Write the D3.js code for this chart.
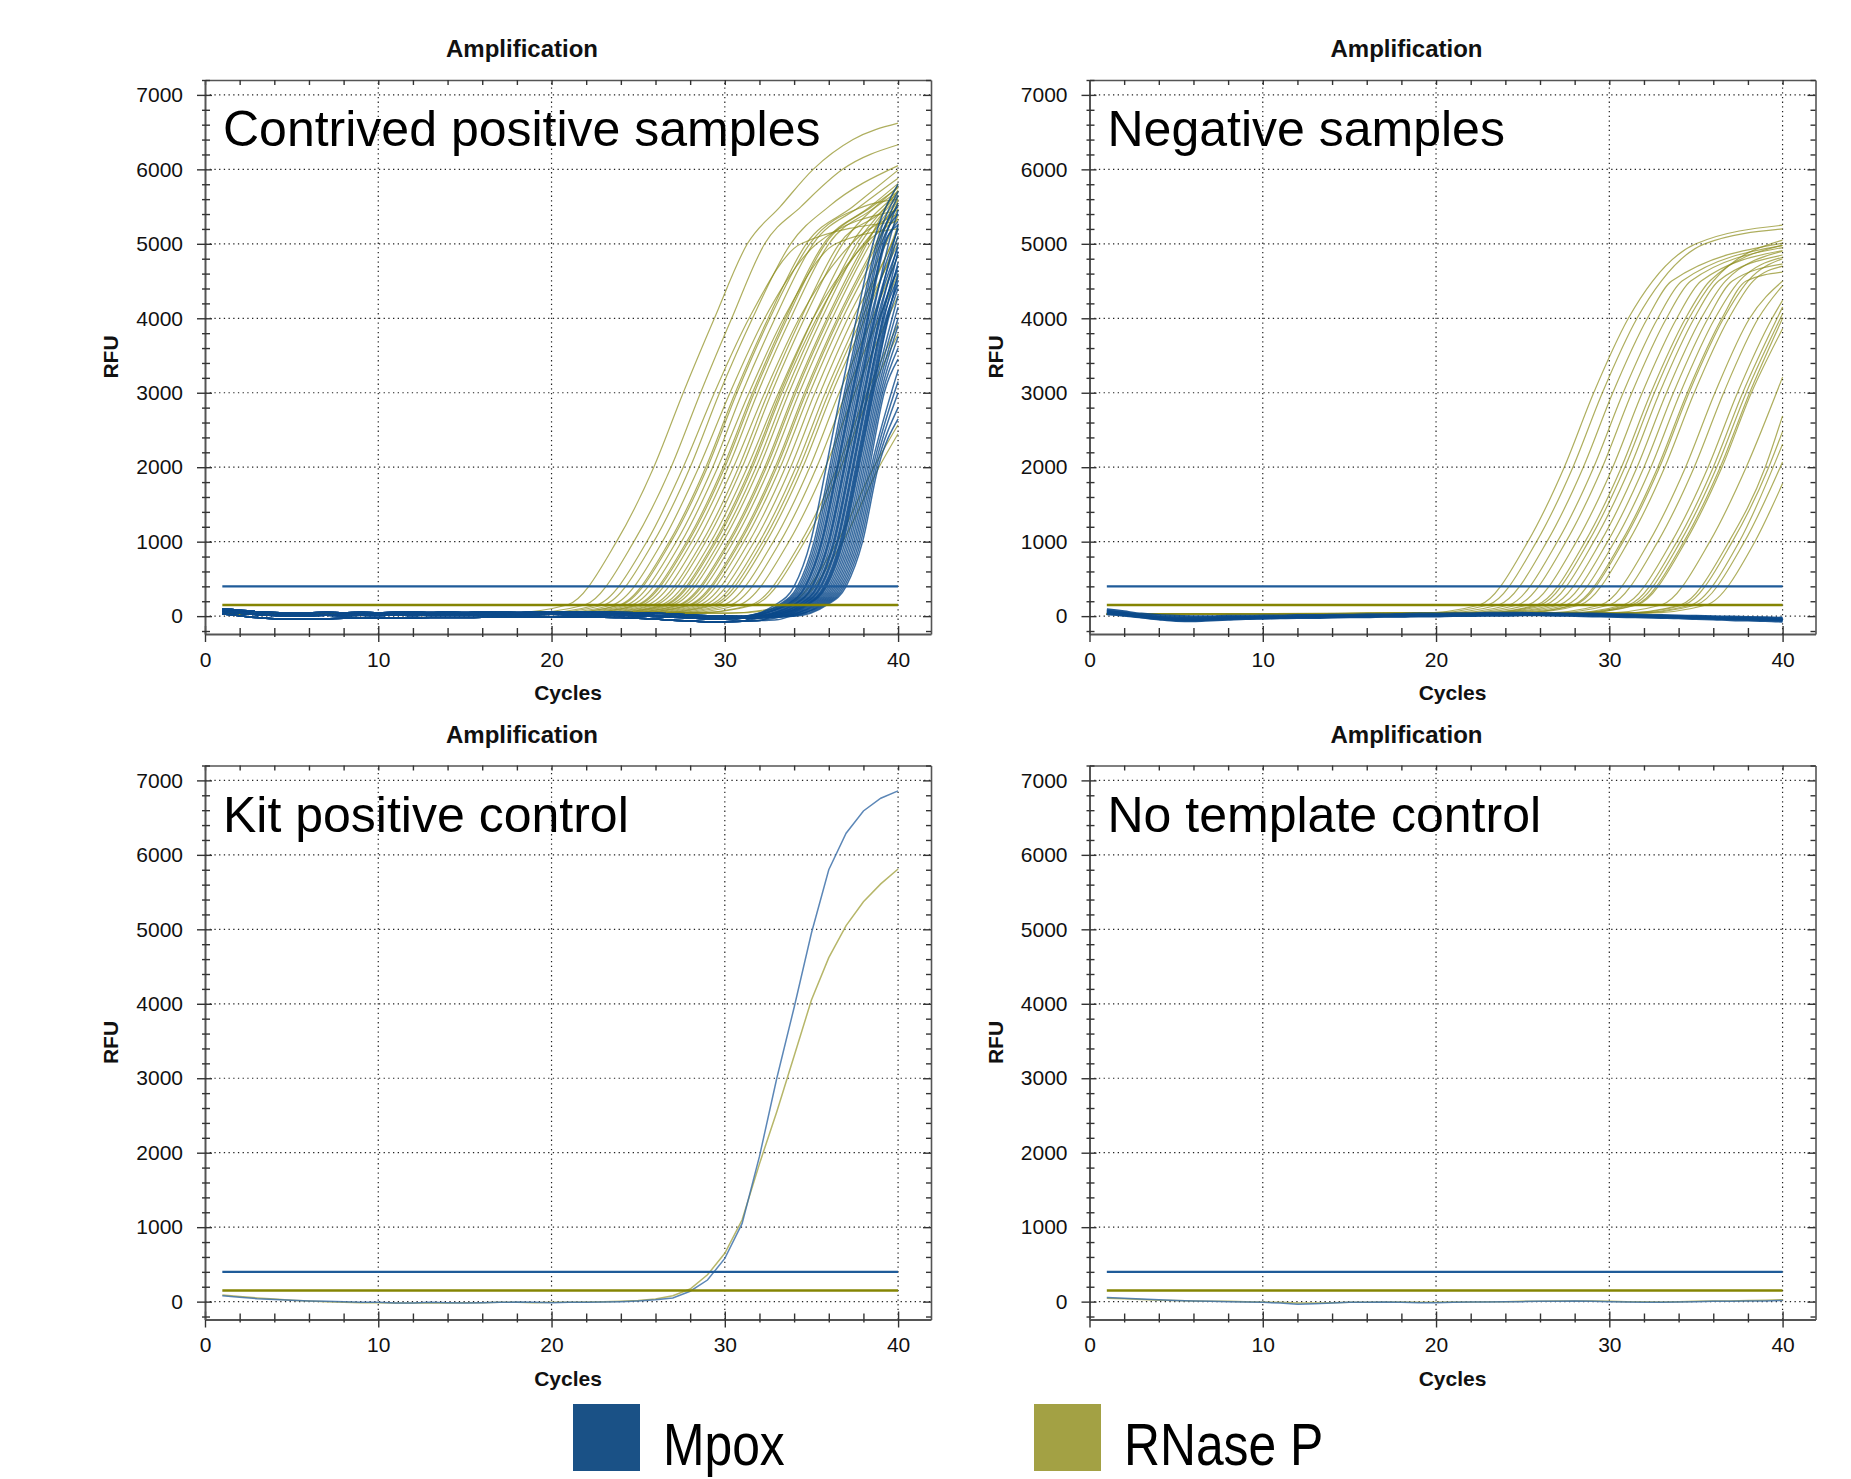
<!DOCTYPE html>
<html>
<head>
<meta charset="utf-8">
<script src="https://d3js.org/d3.v7.min.js"></script>
<style>
  body { margin: 0; background: #fff; }
  text { font-family: "Liberation Sans", Arial, sans-serif; }
</style>
</head>
<body>
<script>
// ---------- data ----------
var xMajorTicks = [0, 10, 20, 30, 40];
var xMinorTicks = [2, 4, 6, 8, 12, 14, 16, 18, 22, 24, 26, 28, 32, 34, 36, 38];
var yMajorTicks = [0, 1000, 2000, 3000, 4000, 5000, 6000, 7000];
var xGridLines = [10, 20, 30, 40];

var mpoxThreshold = 400;
var rnaseThreshold = 150;

var panelLabels = ["Contrived positive samples", "Negative samples", "Kit positive control", "No template control"];
var legendNames = ["Mpox", "RNase P"];

// RNase P curves, contrived positives: cycle at which each curve crosses these RFU levels
var rnaseTLLevels = [40, 150, 1000, 2000, 3000, 4000, 5000, 5500, 6000, 6400];
var rnaseTLCross = [
  [17.4, 20.9, 23.75, 25.9, 27.6, 29.4, 31.3, 33.2, 35.1, 37.4],
  [18.4, 21.9, 24.75, 26.9, 28.6, 30.4, 32.3, 34.4, 36.8],
  [19.1, 22.6, 25.5, 27.6, 29.4, 31.4, 34.4],
  [19.5, 23.0, 25.9, 28.0, 29.7, 31.6, 33.8, 36.0],
  [20.0, 23.5, 26.4, 28.5, 30.3, 32.3, 35.3],
  [20.4, 23.9, 26.8, 28.9, 30.6, 32.5, 34.7, 37.4],
  [20.8, 24.3, 27.2, 29.3, 31.0, 32.9, 35.1, 37.8],
  [21.1, 24.6, 27.5, 29.6, 31.4, 33.4, 36.4],
  [21.4, 24.9, 27.8, 29.9, 31.6, 33.5, 35.7, 38.4],
  [21.7, 25.2, 28.1, 30.2, 31.9, 33.8, 36.0, 38.7],
  [22.0, 25.5, 28.4, 30.5, 32.3, 34.3, 37.3],
  [22.3, 25.8, 28.7, 30.8, 32.5, 34.4, 36.6, 39.3],
  [22.5, 26.0, 28.9, 31.0, 32.7, 34.6, 36.8],
  [22.8, 26.3, 29.2, 31.3, 33.1, 35.1, 38.1],
  [23.0, 26.5, 29.4, 31.5, 33.2, 35.1, 37.3],
  [23.3, 26.8, 29.7, 31.8, 33.5, 35.4, 37.6],
  [23.5, 27.0, 29.9, 32.0, 33.7, 35.6, 37.8],
  [23.8, 27.3, 30.2, 32.3, 34.0, 35.9, 38.1],
  [24.1, 27.6, 30.5, 32.6, 34.3, 36.2, 38.4],
  [24.4, 27.9, 30.8, 32.9, 34.6, 36.5, 38.7],
  [24.7, 28.2, 31.1, 33.2, 34.9, 36.8, 39.0],
  [25.0, 28.5, 31.4, 33.5, 35.2, 37.1, 39.3],
  [25.3, 28.8, 31.7, 33.8, 35.5, 37.4, 39.6],
  [25.6, 29.1, 32.0, 34.1, 35.8, 37.7],
  [26.0, 29.5, 32.4, 34.5, 36.2, 38.1],
  [26.4, 29.9, 32.8, 34.9, 36.6, 38.5],
  [26.8, 30.3, 33.2, 35.3, 37.0, 38.9],
  [27.3, 30.8, 33.7, 35.8, 37.5, 39.4],
  [28.0, 31.5, 34.4, 36.5, 38.2],
  [28.2, 31.7, 34.6, 36.7, 38.4],
  [30.1, 33.6, 36.5, 38.6],
  [30.4, 33.9, 36.8, 38.9],
  [20.5, 24.0, 26.9, 29.0, 30.7, 32.6, 34.9, 38.0],
  [21.5, 25.0, 27.9, 30.0, 31.7, 33.6, 35.8, 38.5],
  [23.1, 26.6, 29.5, 31.6, 33.3, 35.3, 38.0],
  [23.9, 27.4, 30.3, 32.4, 34.1, 36.0, 38.2],
  [24.5, 28.0, 30.9, 33.0, 34.7, 36.6, 38.8],
  [25.8, 29.3, 32.2, 34.3, 36.0, 37.9]
];
var rnaseTLEnd = [6620, 6330, 5300, 6050, 5450, 5990, 5880, 5200, 5810, 5770, 5400, 5720, 5700, 5330,
  5680, 5650, 5630, 5600, 5580, 5550, 5470, 5380, 5250, 5190, 5100, 4850, 4600, 4300, 3920, 3790,
  2570, 2450, 5600, 5750, 5500, 5800, 5550, 5000];

// Mpox curves, contrived positives
var mpoxTLLevels = [0, 150, 400, 1000, 2000, 3000, 4000, 5000];
var mpoxTLCross = [
  [31.0, 32.9, 34.0, 34.95, 35.85, 36.7, 37.6, 38.55],
  [31.2, 33.1, 34.2, 35.15, 36.05, 36.9, 37.8, 38.75],
  [31.3, 33.2, 34.3, 35.25, 36.15, 37.0, 37.9, 38.85],
  [31.4, 33.3, 34.4, 35.35, 36.25, 37.1, 38.0, 38.95],
  [31.5, 33.4, 34.5, 35.45, 36.35, 37.2, 38.1, 39.05],
  [31.6, 33.5, 34.6, 35.55, 36.45, 37.3, 38.2, 39.15],
  [31.7, 33.6, 34.7, 35.65, 36.55, 37.4, 38.3, 39.25],
  [31.8, 33.7, 34.8, 35.75, 36.65, 37.5, 38.4],
  [31.9, 33.8, 34.9, 35.85, 36.75, 37.6, 38.5, 39.45],
  [32.0, 33.9, 35.0, 35.95, 36.85, 37.7, 38.6],
  [32.05, 33.95, 35.05, 36.0, 36.9, 37.75, 38.65],
  [32.1, 34.0, 35.1, 36.05, 36.95, 37.8, 38.7],
  [32.2, 34.1, 35.2, 36.15, 37.05, 37.9, 38.8],
  [32.3, 34.2, 35.3, 36.25, 37.15, 38.0, 38.9],
  [32.4, 34.3, 35.4, 36.35, 37.25, 38.1, 39.0],
  [32.5, 34.4, 35.5, 36.45, 37.35, 38.2, 39.1],
  [32.55, 34.45, 35.55, 36.5, 37.4, 38.25, 39.15],
  [32.6, 34.5, 35.6, 36.55, 37.45, 38.3, 39.2],
  [32.7, 34.6, 35.7, 36.65, 37.55, 38.4, 39.3],
  [32.8, 34.7, 35.8, 36.75, 37.65, 38.5, 39.4],
  [32.9, 34.8, 35.9, 36.85, 37.75, 38.6],
  [33.0, 34.9, 36.0, 36.95, 37.85, 38.7],
  [32.85, 34.75, 35.85, 36.8, 37.7, 38.55, 39.45],
  [33.1, 35.0, 36.1, 37.05, 37.95, 38.8],
  [33.2, 35.1, 36.2, 37.15, 38.05, 38.9],
  [33.3, 35.2, 36.3, 37.25, 38.15, 39.0],
  [33.4, 35.3, 36.4, 37.35, 38.25, 39.1],
  [33.5, 35.4, 36.5, 37.45, 38.35, 39.2],
  [33.6, 35.5, 36.6, 37.55, 38.45],
  [33.7, 35.6, 36.7, 37.65, 38.55],
  [33.8, 35.7, 36.8, 37.75, 38.65],
  [33.9, 35.8, 36.9, 37.85, 38.75],
  [34.0, 35.9, 37.0, 37.95, 38.85],
  [32.35, 34.25, 35.35, 36.3, 37.2, 38.05, 38.95],
  [31.65, 33.55, 34.65, 35.6, 36.5, 37.35, 38.25, 39.2],
  [32.75, 34.65, 35.75, 36.7, 37.6, 38.45, 39.35]
];
var mpoxTLEnd = [5800, 5700, 5500, 5650, 5400, 5550, 5300, 5200, 5450, 5100, 4950, 5250, 4850, 5000,
  4700, 4900, 4550, 4750, 4450, 4600, 4300, 4150, 4400, 4000, 3900, 3750, 3600, 3450, 3300, 3150,
  3000, 2800, 2650, 4650, 5250, 4500];
// baseline shapes of the Mpox band (cycles 1..34) before the rise
var mpoxTLBase = [
  [95, 80, 60, 50, 45, 45, 52, 44, 52, 45, 52, 56, 48, 56, 50, 57, 52, 50, 57, 60, 53, 60, 55, 50, 45, 38, 28, 15, 5, 0, -5, 0, 5, 15],
  [60, 40, 20, 10, 5, 5, 12, 5, 12, 8, 15, 10, 16, 12, 15, 20, 15, 20, 18, 25, 20, 20, 15, 10, 5, -5, -15, -25, -35, -35, -30, -25, -20, -10],
  [30, 5, -20, -35, -40, -35, -35, -30, -30, -25, -25, -25, -20, -20, -20, -15, -15, -15, -10, -10, -10, -15, -15, -20, -30, -40, -55, -65, -75, -75, -70, -60, -50, -35],
  [75, 55, 30, 20, 15, 15, 22, 18, 26, 20, 25, 30, 24, 31, 28, 35, 30, 36, 33, 40, 35, 35, 30, 25, 20, 10, 0, -10, -20, -25, -20, -15, -10, 0]
];
var rnaseLeadRfu = 25;

// RNase P curves, negative samples
var rnaseTRLevels = [40, 150, 1000, 2000, 3000, 4000, 4500, 5000];
var rnaseTRCross = [
  [19.0, 22.5, 25.3, 27.4, 29.1, 31.1, 32.5, 35.0],
  [19.5, 23.0, 25.8, 27.9, 29.6, 31.6, 33.0, 35.5],
  [20.1, 23.6, 26.4, 28.5, 30.2, 32.2, 33.6],
  [20.7, 24.2, 27.0, 29.1, 30.8, 32.8, 34.2],
  [21.2, 24.7, 27.5, 29.6, 31.3, 33.3, 34.7],
  [21.8, 25.3, 28.1, 30.2, 31.9, 33.9, 35.3],
  [22.3, 25.8, 28.6, 30.7, 32.4, 34.4, 35.8],
  [22.8, 26.3, 29.1, 31.2, 32.9, 34.9, 36.3],
  [23.2, 26.7, 29.5, 31.6, 33.3, 35.3, 36.7],
  [23.6, 27.1, 29.9, 32.0, 33.7, 35.7, 37.1],
  [24.0, 27.5, 30.3, 32.4, 34.1, 36.1, 37.5],
  [24.4, 27.9, 30.7, 32.8, 34.5, 36.5, 37.9],
  [24.8, 28.3, 31.1, 33.2, 34.9, 36.9, 38.3],
  [26.5, 30.0, 32.8, 34.9, 36.6, 38.6],
  [26.0, 29.5, 32.3, 34.4, 36.1, 38.1],
  [27.3, 30.8, 33.6, 35.7, 37.4, 39.4],
  [27.6, 31.1, 33.9, 36.0, 37.7],
  [27.8, 31.3, 34.1, 36.2, 37.9],
  [28.0, 31.5, 34.3, 36.4, 38.1],
  [28.1, 31.6, 34.4, 36.5, 38.2],
  [29.5, 33.0, 35.8, 37.9],
  [30.6, 34.1, 36.9, 39.0],
  [30.8, 34.3, 37.1, 39.2],
  [31.2, 34.7, 37.5],
  [31.5, 35.0, 37.8],
  [32.1, 35.6, 38.4],
  [24.5, 28.0, 30.8, 32.9, 34.6, 36.6, 38.0],
  [22.5, 26.0, 28.8, 30.9, 32.6, 34.6, 36.0]
];
var rnaseTREnd = [5250, 5200, 5010, 4980, 4950, 4910, 4980, 4850, 4900, 4730, 4820, 4620, 4700, 4440,
  4500, 4240, 4150, 4060, 4000, 3860, 3210, 2690, 2480, 2310, 2070, 1780, 4800, 5050];

// Mpox curves, negative samples (cycles 1..40)
var mpoxTRNeg = [
  [70, 40, 10, -15, -25, -25, -20, -15, -15, -10, -10, -5, -5, 0, 0, 5, 5, 10, 10, 15, 20, 20, 25, 25, 30, 30, 25, 25, 20, 15, 10, 5, 0, -5, -10, -15, -20, -25, -30, -35],
  [40, 15, -10, -35, -50, -55, -45, -35, -30, -25, -20, -15, -15, -10, -5, -5, 0, 0, 5, 5, 10, 10, 15, 15, 20, 20, 15, 15, 10, 5, 0, -5, -10, -15, -20, -30, -35, -40, -45, -55],
  [90, 60, 30, 10, 0, -5, -5, 0, 0, 5, 5, 10, 10, 15, 15, 20, 20, 25, 30, 30, 35, 35, 40, 40, 40, 35, 35, 30, 30, 25, 20, 15, 10, 5, 0, -5, -10, -15, -20, -25],
  [55, 30, 0, -20, -35, -40, -35, -25, -20, -15, -10, -10, -5, -5, 0, 0, 5, 5, 10, 15, 15, 20, 20, 25, 25, 25, 20, 20, 15, 10, 5, 0, -5, -10, -15, -25, -30, -40, -45, -50],
  [30, 10, -15, -40, -60, -65, -55, -45, -35, -30, -25, -20, -20, -15, -10, -10, -5, -5, 0, 0, 5, 5, 10, 10, 15, 15, 10, 5, 0, -5, -10, -15, -20, -25, -35, -40, -50, -55, -60, -70]
];

// kit positive control (cycles 1..40)
var mpoxKit = [80, 60, 40, 30, 20, 10, 5, 0, -10, -10, -20, -20, -10, -15, -20, -15, -10, -5, -10, -15,
  -10, -10, -5, 0, 10, 25, 50, 140, 290, 580, 1050, 1950, 3000, 3950, 4950, 5800, 6290, 6590, 6760, 6860];
var rnaseKit = [90, 70, 50, 35, 20, 10, 0, -10, -15, -15, -20, -20, -15, -20, -15, -15, -10, -10, -15, -10,
  -10, -5, 0, 5, 15, 35, 80, 170, 360, 650, 1100, 1850, 2550, 3300, 4050, 4620, 5050, 5370, 5610, 5810];

// no template control (cycles 1..40)
var mpoxNtc = [55, 45, 35, 25, 15, 10, 5, 0, -5, -10, -20, -35, -30, -20, -10, -10, -5, -10, -15, -15,
  -10, -5, -5, 0, 0, 5, 5, 10, 5, 0, -5, -10, -10, -5, 0, 5, 5, 10, 10, 15];
var rnaseNtc = [45, 40, 30, 20, 15, 10, 5, 5, 0, -5, -10, -20, -20, -15, -10, -10, -5, -5, -10, -10,
  -5, -5, 0, 0, 5, 5, 10, 10, 10, 5, 0, 0, -5, 0, 5, 10, 10, 15, 20, 25];

// ---------- drawing ----------
var mpoxColor = "#0b4a8b", rnaseColor = "#8b8b1a";
var panelW = 726, panelH = 554, xMax = 41.9, yMin = -240, yMax = 7200;

var svg = d3.select("body").append("svg")
  .attr("width", 1851)
  .attr("height", 1479);
svg.append("rect").attr("width", 1851).attr("height", 1479).attr("fill", "#fff");

function crossingSeries(levels, cross, end, lead) {
  var pts = lead.slice();
  cross.forEach(function(c, i) { pts.push([c, levels[i]]); });
  pts.push([40, end]);
  return pts;
}
function cycleSeries(values) {
  return values.map(function(v, i) { return [i + 1, v]; });
}

var tlOlive = rnaseTLCross.map(function(c, i) {
  return crossingSeries(rnaseTLLevels, c, rnaseTLEnd[i], [[1, rnaseLeadRfu]]);
});
var tlBlue = mpoxTLCross.map(function(c, i) {
  var lead = cycleSeries(mpoxTLBase[i % 4]).filter(function(p) { return p[0] < c[0] - 0.4; });
  return crossingSeries(mpoxTLLevels, c, mpoxTLEnd[i], lead);
});
var trOlive = rnaseTRCross.map(function(c, i) {
  return crossingSeries(rnaseTRLevels, c, rnaseTREnd[i], [[1, rnaseLeadRfu]]);
});
var trBlue = mpoxTRNeg.map(cycleSeries);

var panels = [
  {left: 205, top: 80, label: panelLabels[0], olive: tlOlive, blue: tlBlue, smooth: true,
   oliveStyle: {w: 1.2, o: 0.7}, blueStyle: {w: 1.5, o: 0.8}},
  {left: 1089.5, top: 80, label: panelLabels[1], olive: trOlive, blue: trBlue, smooth: true,
   oliveStyle: {w: 1.2, o: 0.7}, blueStyle: {w: 2.6, o: 0.92}},
  {left: 205, top: 765.5, label: panelLabels[2], olive: [cycleSeries(rnaseKit)], blue: [cycleSeries(mpoxKit)], smooth: false,
   oliveStyle: {w: 1.5, o: 0.8, c: "#a4a444"}, blueStyle: {w: 1.5, o: 0.85, c: "#3f72aa"}},
  {left: 1089.5, top: 765.5, label: panelLabels[3], olive: [cycleSeries(rnaseNtc)], blue: [cycleSeries(mpoxNtc)], smooth: false,
   oliveStyle: {w: 1.5, o: 0.8, c: "#a4a444"}, blueStyle: {w: 1.5, o: 0.85, c: "#3f72aa"}}
];

function styleAxis(sel, labels) {
  sel.select(".domain").attr("stroke", "#555").attr("stroke-width", 2);
  sel.selectAll(".tick line").attr("stroke", "#333").attr("stroke-width", 1.4);
  sel.selectAll(".tick text").attr("font-size", 21).attr("fill", "#111")
    .attr("font-family", "'Liberation Sans', Arial, sans-serif");
  if (!labels) sel.selectAll(".tick text").remove();
}

var yMinorTicks = d3.range(-200, 7201, 200).filter(function(d) { return d % 1000 !== 0; });

panels.forEach(function(p, k) {
  var x = d3.scaleLinear().domain([0, xMax]).range([p.left, p.left + panelW]);
  var y = d3.scaleLinear().domain([yMin, yMax]).range([p.top + panelH, p.top]);
  var g = svg.append("g");

  // dotted grid
  g.append("g").selectAll("line").data(yMajorTicks).join("line")
    .attr("x1", x(0)).attr("x2", x(xMax))
    .attr("y1", function(d) { return y(d); }).attr("y2", function(d) { return y(d); })
    .attr("stroke", "#222").attr("stroke-width", 1.2).attr("stroke-dasharray", "1.3,3.4");
  g.append("g").selectAll("line").data(xGridLines).join("line")
    .attr("y1", y(yMin)).attr("y2", y(yMax))
    .attr("x1", function(d) { return x(d); }).attr("x2", function(d) { return x(d); })
    .attr("stroke", "#222").attr("stroke-width", 1.2).attr("stroke-dasharray", "1.3,3.4");

  // curves
  g.append("clipPath").attr("id", "clip" + k).append("rect")
    .attr("x", x(0)).attr("y", y(yMax)).attr("width", panelW).attr("height", panelH);
  var line = d3.line().x(function(d) { return x(d[0]); }).y(function(d) { return y(d[1]); })
    .curve(p.smooth ? d3.curveMonotoneX : d3.curveLinear);
  var cg = g.append("g").attr("clip-path", "url(#clip" + k + ")");
  cg.selectAll("path.rnase").data(p.olive).join("path").attr("class", "rnase")
    .attr("d", line).attr("fill", "none")
    .attr("stroke", p.oliveStyle.c || rnaseColor).attr("stroke-width", p.oliveStyle.w)
    .attr("stroke-opacity", p.oliveStyle.o);
  cg.selectAll("path.mpox").data(p.blue).join("path").attr("class", "mpox")
    .attr("d", line).attr("fill", "none")
    .attr("stroke", p.blueStyle.c || mpoxColor).attr("stroke-width", p.blueStyle.w)
    .attr("stroke-opacity", p.blueStyle.o);

  // thresholds
  g.append("line").attr("x1", x(1)).attr("x2", x(40))
    .attr("y1", y(mpoxThreshold)).attr("y2", y(mpoxThreshold))
    .attr("stroke", "#1f5b99").attr("stroke-width", 2.2);
  g.append("line").attr("x1", x(1)).attr("x2", x(40))
    .attr("y1", y(rnaseThreshold)).attr("y2", y(rnaseThreshold))
    .attr("stroke", "#858503").attr("stroke-width", 2.6);

  // frame (top and right) with inward ticks
  var topAx = g.append("g").attr("transform", "translate(0," + y(yMax) + ")")
    .call(d3.axisBottom(x).tickValues(xMinorTicks.concat(xMajorTicks)).tickSize(5).tickSizeOuter(0));
  styleAxis(topAx, false); topAx.select(".domain").attr("stroke-width", 1.6);
  var rightMin = g.append("g").attr("transform", "translate(" + x(xMax) + ",0)")
    .call(d3.axisLeft(y).tickValues(yMinorTicks).tickSize(5).tickSizeOuter(0));
  styleAxis(rightMin, false); rightMin.select(".domain").attr("stroke-width", 1.6);
  var rightMaj = g.append("g").attr("transform", "translate(" + x(xMax) + ",0)")
    .call(d3.axisLeft(y).tickValues(yMajorTicks).tickSize(8).tickSizeOuter(0));
  styleAxis(rightMaj, false); rightMaj.select(".domain").remove();

  // bottom axis
  var bY = y(yMin);
  var bx = g.append("g").attr("transform", "translate(0," + bY + ")")
    .call(d3.axisBottom(x).tickValues(xMajorTicks).tickSize(8).tickSizeOuter(0).tickPadding(10).tickFormat(d3.format("d")));
  styleAxis(bx, true);
  var bxIn = g.append("g").attr("transform", "translate(0," + bY + ")")
    .call(d3.axisTop(x).tickValues(xMajorTicks).tickSize(8).tickSizeOuter(0));
  styleAxis(bxIn, false); bxIn.select(".domain").remove();
  var bxMin = g.append("g").attr("transform", "translate(0," + bY + ")")
    .call(d3.axisBottom(x).tickValues(xMinorTicks).tickSize(3).tickSizeOuter(0));
  styleAxis(bxMin, false); bxMin.select(".domain").remove();
  var bxMinIn = g.append("g").attr("transform", "translate(0," + bY + ")")
    .call(d3.axisTop(x).tickValues(xMinorTicks).tickSize(6).tickSizeOuter(0));
  styleAxis(bxMinIn, false); bxMinIn.select(".domain").remove();

  // left axis
  var lx = x(0);
  var ly = g.append("g").attr("transform", "translate(" + lx + ",0)")
    .call(d3.axisLeft(y).tickValues(yMajorTicks).tickSize(8).tickSizeOuter(0).tickPadding(14).tickFormat(d3.format("d")));
  styleAxis(ly, true);
  var lyIn = g.append("g").attr("transform", "translate(" + lx + ",0)")
    .call(d3.axisRight(y).tickValues(yMajorTicks).tickSize(7).tickSizeOuter(0));
  styleAxis(lyIn, false); lyIn.select(".domain").remove();
  var lyMin = g.append("g").attr("transform", "translate(" + lx + ",0)")
    .call(d3.axisLeft(y).tickValues(yMinorTicks).tickSize(3).tickSizeOuter(0));
  styleAxis(lyMin, false); lyMin.select(".domain").remove();
  var lyMinIn = g.append("g").attr("transform", "translate(" + lx + ",0)")
    .call(d3.axisRight(y).tickValues(yMinorTicks).tickSize(5).tickSizeOuter(0));
  styleAxis(lyMinIn, false); lyMinIn.select(".domain").remove();

  // titles
  g.append("text").text("Amplification")
    .attr("x", p.left + 317).attr("y", p.top - 23)
    .attr("text-anchor", "middle").attr("font-weight", "bold").attr("font-size", 24).attr("fill", "#111");
  g.append("text").text("Cycles")
    .attr("x", p.left + 363).attr("y", p.top + 620)
    .attr("text-anchor", "middle").attr("font-weight", "bold").attr("font-size", 21).attr("fill", "#111");
  g.append("text").text("RFU")
    .attr("transform", "translate(" + (p.left - 87) + "," + (p.top + 277) + ") rotate(-90)")
    .attr("text-anchor", "middle").attr("font-weight", "bold").attr("font-size", 21).attr("fill", "#111");

  // panel label
  g.append("text").text(p.label)
    .attr("x", p.left + 18).attr("y", p.top + 66)
    .attr("font-size", 50).attr("fill", "#000");
});

// legend
var legend = svg.append("g");
var legendColors = ["#1a5186", "#a3a144"];
var legendX = [573, 1034];
legendNames.forEach(function(name, i) {
  legend.append("rect").attr("x", legendX[i]).attr("y", 1404).attr("width", 67).attr("height", 67)
    .attr("fill", legendColors[i]);
  legend.append("text").text(name)
    .attr("transform", "translate(" + (legendX[i] + 90) + ",1465) scale(0.83,1)")
    .attr("font-size", 60).attr("fill", "#000");
});
</script>
</body>
</html>
